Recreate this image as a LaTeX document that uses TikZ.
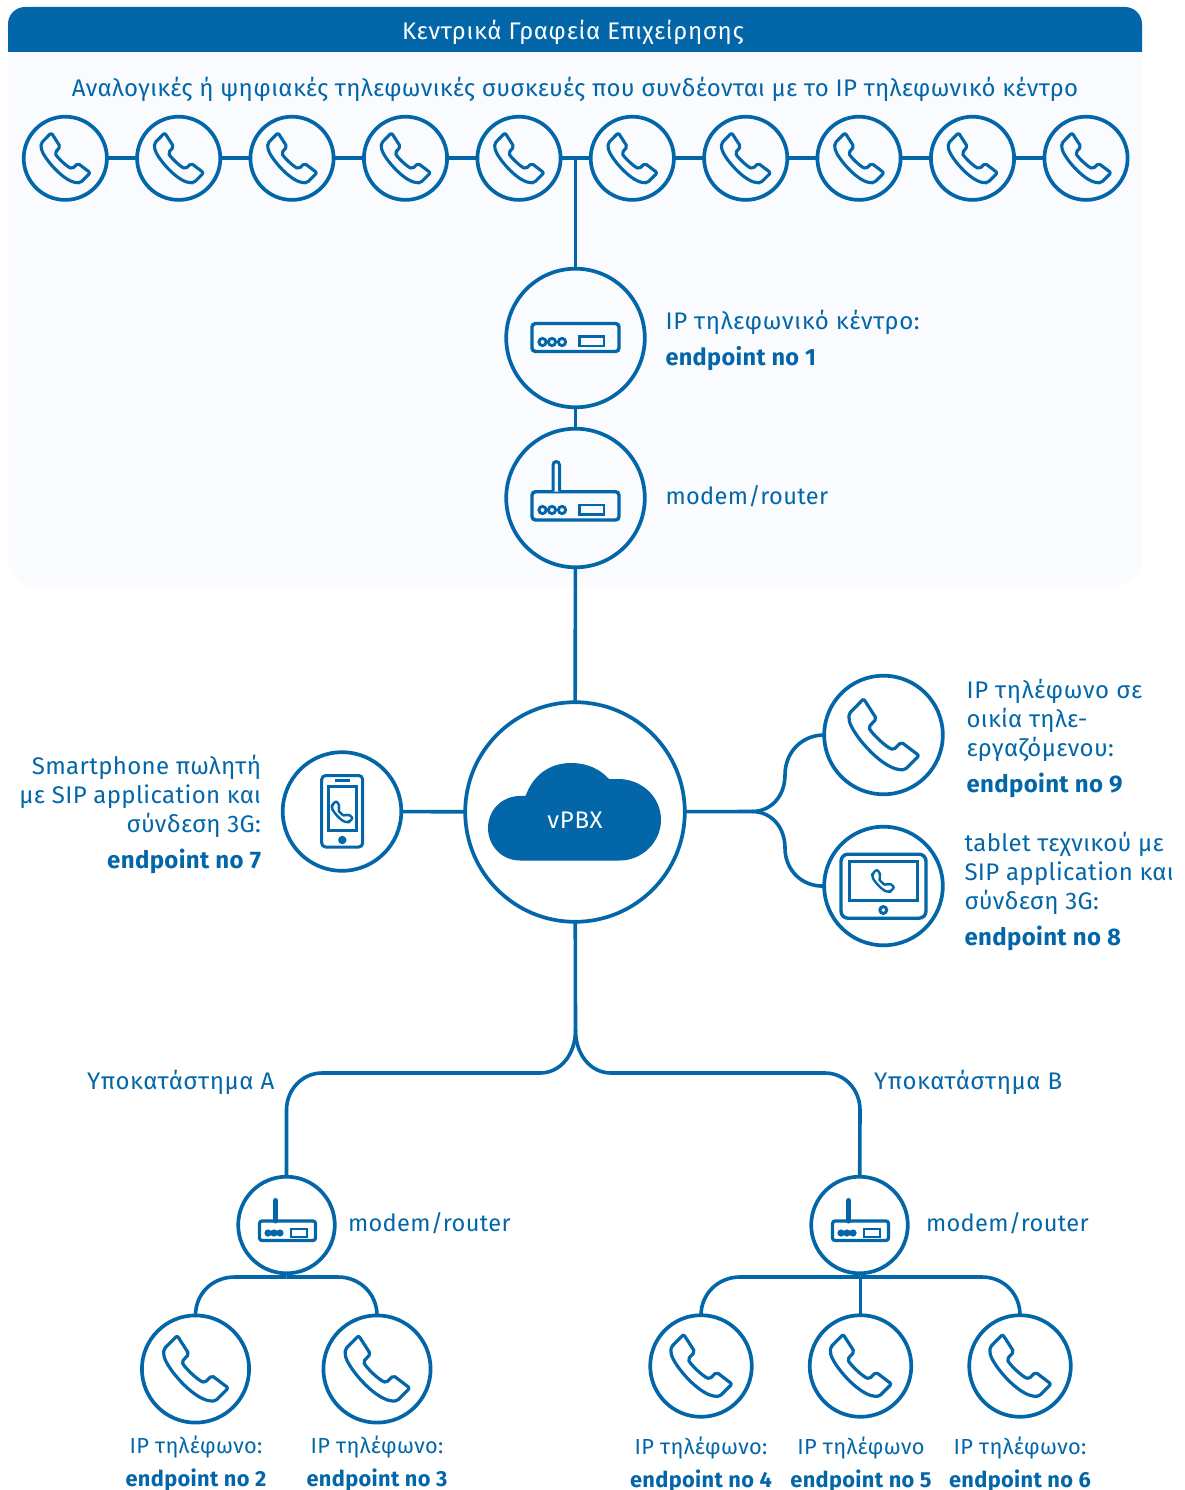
\documentclass[tikz,border=0pt]{standalone}
\usepackage{fontspec}
\setmainfont[LetterSpace=1.5]{Fira Sans}
\definecolor{vb}{HTML}{0266A8}
\definecolor{panelc}{HTML}{F9FBFE}
\newcommand{\fl}{\rule{0pt}{20pt}}
\newcommand{\wide}{\addfontfeature{LetterSpace=2.8}}
\tikzset{
  x=1pt,y=-1pt,
  cn/.style={circle,draw=vb,line width=3.7pt,inner sep=0pt,outer sep=0pt},
  conn/.style={draw=vb,line width=3.6pt},
  lab/.style={text=vb,inner sep=0pt,outer sep=0pt,font=\fontsize{24}{29}\selectfont},
  labm/.style={lab,font=\fontsize{23.6}{29}\selectfont},
  phoneicon/.pic={
    \draw[vb,rounded corners=2pt,line join=round]
      (-14,-25.5) -- (-24.3,-15) -- (-24.3,-11)
      .. controls (-22,-1) and (-3,22) .. (12,24.5)
      -- (15,24.5) -- (25,14.5) -- (12.5,5) -- (7,10.5)
      .. controls (1,8) and (-8,-1) .. (-10.5,-5.5)
      -- (-5,-11.5) -- cycle;
  },
  boxicon/.pic={
    \draw[vb,line width=3.4pt,rounded corners=3.5pt] (-43.5,-14.5) rectangle (43.5,13.5);
    \draw[vb,line width=2.9pt] (-33,4) circle (3.6) (-23.5,4) circle (3.6) (-13.5,4) circle (3.6);
    \draw[vb,line width=2.9pt] (4,-1.2) rectangle (28.5,8);
  },
  routericon/.pic={
    \draw[vb,line width=3.4pt,rounded corners=3.5pt] (-43.5,-6.3) rectangle (43.5,22);
    \draw[vb,line width=2.9pt] (-33,12) circle (3.6) (-23.5,12) circle (3.6) (-13.5,12) circle (3.6);
    \draw[vb,line width=2.9pt] (4,7) rectangle (28.5,16.2);
    \draw[vb,line width=3pt,fill=panelc] (-22.5,-6.3) -- (-22.5,-33) .. controls (-22.5,-37.5) and (-16,-37.5) .. (-16,-33) -- (-16,-6.3);
  },
  smallrouter/.pic={
    \draw[vb,line width=3.2pt,rounded corners=2.5pt] (-27,-4) rectangle (29,15.5);
    \fill[vb] (-18.5,8) circle (3.6) (-12.5,8) circle (3.6) (-6.5,8) circle (3.6);
    \draw[vb,line width=2.2pt] (4.5,3.8) rectangle (20.5,11.6);
    \draw[vb,line width=5pt,line cap=round] (-11,-4) -- (-11,-24.5);
  },
}
\begin{document}
\begin{tikzpicture}
\useasboundingbox (0,0) rectangle (1184,1490);
% panel and header
\fill[panelc] (8,52) -- (1142,52) -- (1142,557) .. controls (1142,573.6) and (1128.6,587) .. (1112,587)
  -- (38,587) .. controls (21.4,587) and (8,573.6) .. (8,557) -- cycle;
\fill[vb] (8,52) -- (8,24) .. controls (8,14.6) and (15.6,7) .. (25,7) -- (1125,7)
  .. controls (1134.4,7) and (1142,14.6) .. (1142,24) -- (1142,52) -- cycle;
\node[font=\fontsize{24}{29}\selectfont,text=white,inner sep=0pt,anchor=base] (title) at (573,40) {\wide Κεντρικά Γραφεία Επιχείρησης};
\node[lab,anchor=base] (sub) at (575,97) {Αναλογικές ή ψηφιακές τηλεφωνικές συσκευές που συνδέονται με το IP τηλεφωνικό κέντρο};
% top phones
\foreach \i/\xx in {1/65.3,2/178.7,3/292,4/405.5,5/519,6/632.3,7/745.7,8/859,9/972.5,10/1086}{
  \node[cn,minimum size=83.2pt] (p\i) at (\xx,158.3) {};
  \pic[scale=1,line width=3.1pt] at (p\i) {phoneicon};
}
\foreach \a/\b in {1/2,2/3,3/4,4/5,5/6,6/7,7/8,8/9,9/10}{
  \draw[conn] (p\a) -- (p\b);
}
% pbx and modem
\node[cn,minimum size=138.6pt] (pbx) at (575.5,338) {};
\pic at (pbx) {boxicon};
\node[cn,minimum size=138.6pt] (modem) at (575.5,498) {};
\pic at (modem) {routericon};
\coordinate (topj) at (575.5,158.3);
\draw[conn] (topj) -- (pbx);
\draw[conn] (pbx) -- (modem);
% vPBX
\node[cn,minimum size=219.6pt] (vpbx) at (575,812) {};
\fill[vb] (520,860.5) .. controls (502,860.5) and (488,846) .. (488,828)
  .. controls (488,810) and (502,796) .. (520,796) -- (525.7,795.7)
  .. controls (533,775) and (550,763) .. (571,763)
  .. controls (587,763) and (600,769) .. (609,779)
  -- (618,779) .. controls (642,779) and (661,797) .. (661,820)
  .. controls (661,842) and (642,860.5) .. (620,860.5) -- cycle;
\node[font=\fontsize{24}{29}\selectfont,text=white,inner sep=0pt,anchor=base] (vlabel) at (575,828) {\wide vPBX};
\draw[conn] (modem) -- (vpbx);
% smartphone
\node[cn,minimum size=118.6pt] (smart) at (342,811.5) {};
\draw[conn] (smart) -- (vpbx);
\draw[vb,line width=3pt,rounded corners=4pt] (321.7,775.5) rectangle (362.7,847);
\draw[vb,line width=2.8pt] (328.7,786.7) rectangle (356.3,830.5);
\fill[vb] (335,779.2) rectangle (350,782.2);
\fill[vb] (342.3,840) circle (4.2);
\pic[scale=.43,line width=2.4pt] at (342.3,811.7) {phoneicon};
% home phone and tablet
\node[cn,minimum size=118.6pt] (home) at (883.5,735) {};
\pic[scale=1.42,line width=3.2pt] at (home) {phoneicon};
\node[cn,minimum size=118.6pt] (tablet) at (883.5,886) {};
\draw[vb,line width=3.4pt,rounded corners=7pt] (841,854.2) rectangle (926,918.2);
\draw[vb,line width=3.4pt] (849.5,861.2) rectangle (917.5,900.7);
\draw[vb,line width=3pt] (883.3,910) circle (3.4);
\pic[scale=.45,line width=2.4pt] at (883.3,880.7) {phoneicon};
\coordinate (rj) at (752,811.5);
\draw[conn] (vpbx) -- (rj) .. controls (772,811.5) and (785,795) .. (785,775)
  .. controls (785,752) and (802,735) .. (home.west);
\draw[conn] (rj) .. controls (772,811.5) and (785,828) .. (785,848)
  .. controls (785,870) and (802,887) .. (tablet.west);
% branches
\node[cn,minimum size=96.6pt] (ma) at (286.5,1225) {};
\pic at (ma) {smallrouter};
\node[cn,minimum size=96.6pt] (mb) at (859.5,1225) {};
\pic at (mb) {smallrouter};
\coordinate (bj) at (575.5,1030);
\draw[conn] (vpbx) -- (bj) .. controls (575.5,1055) and (560,1073) .. (540,1073)
  -- (322,1073) .. controls (302,1073) and (286.5,1090) .. (286.5,1110) -- (ma);
\draw[conn] (bj) .. controls (575.5,1055) and (591,1073) .. (611,1073)
  -- (825,1073) .. controls (845,1073) and (860,1090) .. (860,1110) -- (mb);
% phones A
\node[cn,minimum size=107.2pt] (e2) at (195.5,1369) {};
\pic[scale=1.31,line width=3.2pt] at (e2) {phoneicon};
\node[cn,minimum size=107.2pt] (e3) at (377,1369) {};
\pic[scale=1.31,line width=3.2pt] at (e3) {phoneicon};
\coordinate (ja) at (286.5,1277);
\draw[conn] (ja) -- (235,1277) .. controls (212,1277) and (195.5,1294) .. (e2.north);
\draw[conn] (ja) -- (338,1277) .. controls (360,1277) and (377,1294) .. (e3.north);
% phones B
\node[cn,minimum size=101.6pt] (e4) at (701,1366) {};
\pic[scale=1.24,line width=3.2pt] at (e4) {phoneicon};
\node[cn,minimum size=101.6pt] (e5) at (860.5,1366) {};
\pic[scale=1.24,line width=3.2pt] at (e5) {phoneicon};
\node[cn,minimum size=101.6pt] (e6) at (1020,1366) {};
\pic[scale=1.24,line width=3.2pt] at (e6) {phoneicon};
\coordinate (jb) at (860.5,1277);
\draw[conn] (jb) -- (740,1277) .. controls (718,1277) and (701,1294) .. (e4.north);
\draw[conn] (jb) -- (982,1277) .. controls (1004,1277) and (1020,1294) .. (e6.north);
\draw[conn] (jb) -- (e5.north);
% labels
\node[lab,anchor=north west,align=left] (l1) at (665.5,309) {\fl\wide IP τηλεφωνικό κέντρο:\\[7pt]\fontsize{23.5}{29}\selectfont\bfseries endpoint no 1};
\node[labm,anchor=base west] (l2) at (665.5,504) {modem/router};
\node[lab,anchor=north east,align=right] (l7) at (261,754) {\fl Smartphone πωλητή\\με SIP application και\\σύνδεση 3G:\\[7pt]\bfseries endpoint no 7};
\node[lab,anchor=north west,align=left] (l9) at (966.5,678) {\fl\wide IP τηλέφωνο σε\\οικία τηλε-\\εργαζόμενου:\\[7pt]\bfseries endpoint no 9};
\node[lab,anchor=north west,align=left] (l8) at (964.5,831) {\fl tablet τεχνικού με\\SIP application και\\σύνδεση 3G:\\[7pt]\bfseries endpoint no 8};
\node[lab,anchor=base west] (ya) at (87,1089) {\wide Υποκατάστημα Α};
\node[lab,anchor=base west] (yb) at (874,1089) {\wide Υποκατάστημα Β};
\node[labm,anchor=base west] (lma) at (348,1231) {modem/router};
\node[labm,anchor=base west] (lmb) at (926,1231) {modem/router};
\tikzset{sm/.style={lab,anchor=north,align=center,font=\fontsize{21.8}{33}\selectfont}}
\node[sm] (t2) at (196,1433) {\fl IP τηλέφωνο:\\\bfseries endpoint no 2};
\node[sm] (t3) at (377,1433) {\fl IP τηλέφωνο:\\\bfseries endpoint no 3};
\node[sm] (t4) at (701,1434) {\fl IP τηλέφωνο:\\\bfseries endpoint no 4};
\node[sm] (t5) at (861,1434) {\fl IP τηλέφωνο\\\bfseries endpoint no 5};
\node[sm] (t6) at (1020,1434) {\fl IP τηλέφωνο:\\\bfseries endpoint no 6};
\end{tikzpicture}
\end{document}
